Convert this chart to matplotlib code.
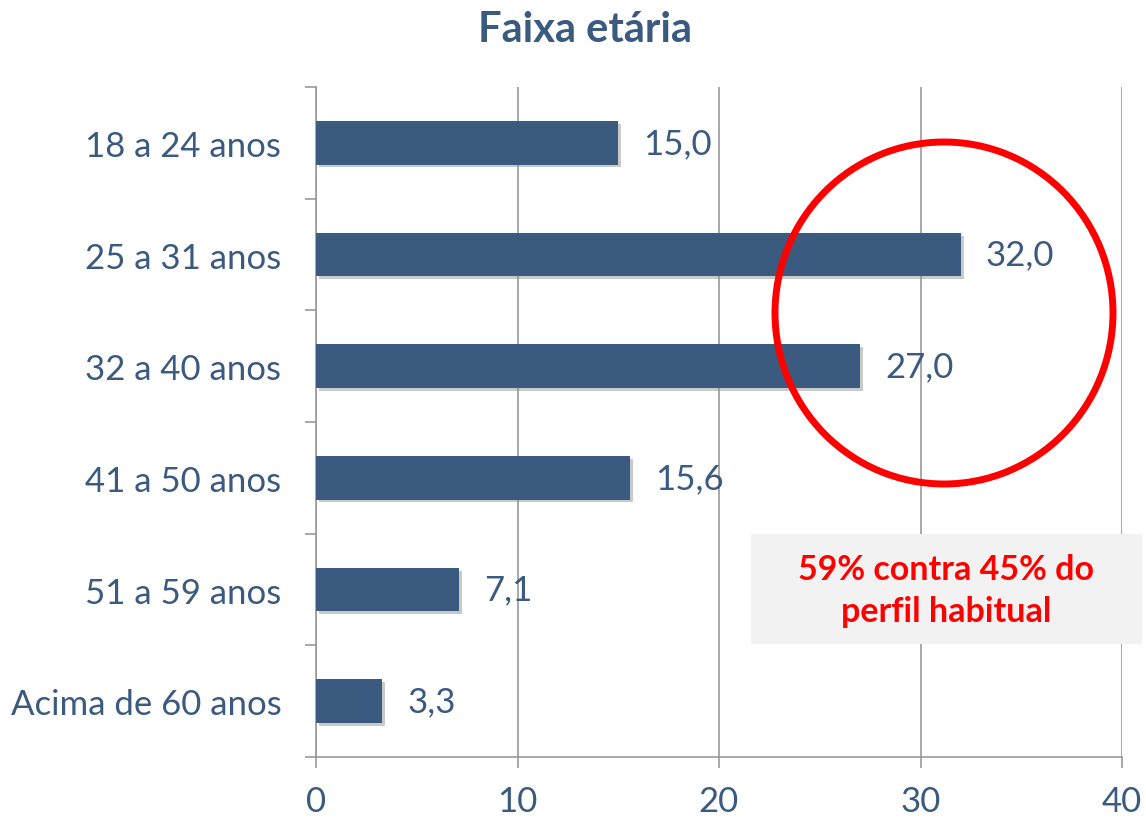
import numpy as np
import matplotlib
matplotlib.use("Agg")
import matplotlib.pyplot as plt
from matplotlib.patches import Ellipse, Rectangle
import matplotlib.patheffects as pe

categories = ["18 a 24 anos", "25 a 31 anos", "32 a 40 anos",
              "41 a 50 anos", "51 a 59 anos", "Acima de 60 anos"]
values = [15.0, 32.0, 27.0, 15.6, 7.1, 3.3]
x_ticks = [0, 10, 20, 30, 40]
title = "Faixa etária"
note = "59% contra 45% do\nperfil habitual"

plt.rcParams['font.family'] = ['Lato', 'DejaVu Sans']

bar_color = "#3A5A7F"
text_color = "#3A5A7F"
grid_color = "#999999"

fig = plt.figure(figsize=(11.46, 8.2), dpi=100)
ax = fig.add_axes([316 / 1146, 1 - 758 / 820, (1122 - 316) / 1146, (758 - 88) / 820])

ypos = np.arange(len(categories))
bars = ax.barh(ypos, values, height=0.39, color=bar_color, zorder=3)
for b in bars:
    b.set_path_effects([pe.SimplePatchShadow(offset=(2, -2), shadow_rgbFace="#888888", alpha=0.45), pe.Normal()])

for y, v in zip(ypos, values):
    ax.annotate(f"{v:.1f}".replace(".", ","), (v, y), xytext=(18, 0), textcoords="offset points",
                va="center", ha="left", fontsize=25, color=text_color)

ax.set_xlim(0, 40)
ax.set_ylim(len(categories) - 0.5, -0.5)
ax.set_xticks(x_ticks)
ax.set_xticklabels([str(t) for t in x_ticks], fontsize=25, color=text_color)
ax.set_yticks(ypos)
ax.set_yticklabels(categories, fontsize=25, color=text_color)
ax.set_yticks(np.arange(-0.5, len(categories)), minor=True)
ax.tick_params(axis="y", which="major", length=0, pad=25)
ax.tick_params(axis="y", which="minor", length=8, color=grid_color, width=1.2)
ax.tick_params(axis="x", length=8, color=grid_color, width=1.2, pad=12)

ax.grid(axis="x", color=grid_color, linewidth=1.2, zorder=0)
for s in ["top", "right"]:
    ax.spines[s].set_visible(False)
for s in ["left", "bottom"]:
    ax.spines[s].set_color(grid_color)
    ax.spines[s].set_linewidth(1.2)

fig.text(585 / 1146, 1 - 30 / 820, title, ha="center", va="center",
         fontsize=30, fontweight="bold", color=text_color)

fig.patches.append(Rectangle((751 / 1146, 1 - 645 / 820), (1142 - 751) / 1146, (645 - 535) / 820,
                             transform=fig.transFigure, facecolor="#F2F2F2", edgecolor="none", zorder=5))
fig.text(946 / 1146, 1 - 591 / 820, note, ha="center", va="center", fontsize=24.5,
         fontweight="bold", color="#FF0000", linespacing=1.4, zorder=6)

fig.patches.append(Ellipse((944 / 1146, 1 - 314 / 820), 338 / 1146, 342 / 820,
                           transform=fig.transFigure, facecolor="none", edgecolor="#FF0000",
                           linewidth=5, zorder=6))

fig.savefig("out.png", dpi=100)
